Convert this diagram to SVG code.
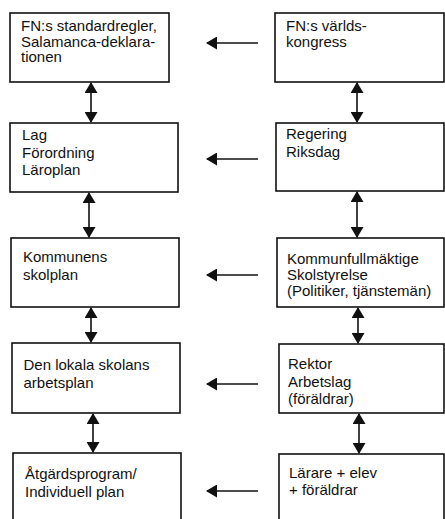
<svg xmlns="http://www.w3.org/2000/svg" width="445" height="519" viewBox="0 0 445 519">
  <style>
    .box { fill: #ffffff; stroke: #111111; stroke-width: 1.6; }
    .t { font-family: "Liberation Sans", Arial, sans-serif; font-size: 15px; fill: #111111; }
    .conn { stroke: #111111; stroke-width: 1.6; fill: none; }
  </style>
  <defs>
    <marker id="ah" viewBox="0 0 11 13" refX="10" refY="6.5" markerWidth="11" markerHeight="13" markerUnits="userSpaceOnUse" orient="auto-start-reverse">
      <path d="M0,0 L11,6.5 L0,13 Z" fill="#111111"/>
    </marker>
  </defs>
  <rect width="445" height="519" fill="#ffffff"/>

  <g id="n-fn-standard">
    <rect class="box" x="10" y="13" width="159" height="69"/>
    <text class="t" x="21" y="31">FN:s standardregler,</text>
    <text class="t" x="21" y="46.5">Salamanca-deklara-</text>
    <text class="t" x="21" y="62">tionen</text>
  </g>
  <g id="n-fn-varlds">
    <rect class="box" x="275" y="13" width="169" height="69"/>
    <text class="t" x="286" y="31">FN:s världs-</text>
    <text class="t" x="286" y="47">kongress</text>
  </g>
  <g id="n-lag">
    <rect class="box" x="10" y="123" width="168" height="69"/>
    <text class="t" x="22" y="139.5">Lag</text>
    <text class="t" x="22" y="157.5">Förordning</text>
    <text class="t" x="22" y="174.5">Läroplan</text>
  </g>
  <g id="n-regering">
    <rect class="box" x="276" y="123" width="168" height="68"/>
    <text class="t" x="286" y="139">Regering</text>
    <text class="t" x="286" y="157">Riksdag</text>
  </g>
  <g id="n-kommunens">
    <rect class="box" x="11" y="238" width="168" height="69"/>
    <text class="t" x="23" y="262">Kommunens</text>
    <text class="t" x="23" y="280">skolplan</text>
  </g>
  <g id="n-kommunfull">
    <rect class="box" x="277" y="238" width="167" height="69"/>
    <text class="t" x="287" y="264">Kommunfullmäktige</text>
    <text class="t" x="287" y="280">Skolstyrelse</text>
    <text class="t" x="287" y="296">(Politiker, tjänstemän)</text>
  </g>
  <g id="n-lokala">
    <rect class="box" x="12" y="343" width="168" height="70"/>
    <text class="t" x="23.5" y="370">Den lokala skolans</text>
    <text class="t" x="23.5" y="387.5">arbetsplan</text>
  </g>
  <g id="n-rektor">
    <rect class="box" x="279" y="344" width="165" height="69"/>
    <text class="t" x="288" y="369">Rektor</text>
    <text class="t" x="288" y="387">Arbetslag</text>
    <text class="t" x="288" y="404">(föräldrar)</text>
  </g>
  <g id="n-atgard">
    <rect class="box" x="13" y="453" width="168" height="80"/>
    <text class="t" x="25" y="479">Åtgärdsprogram/</text>
    <text class="t" x="25" y="497">Individuell plan</text>
  </g>
  <g id="n-larare">
    <rect class="box" x="279" y="454" width="165" height="80"/>
    <text class="t" x="289" y="477.5">Lärare + elev</text>
    <text class="t" x="289" y="495">+ föräldrar</text>
  </g>

  <g id="connectors">
    <line class="conn" x1="91" y1="83" x2="91" y2="122" marker-start="url(#ah)" marker-end="url(#ah)"/>
    <line class="conn" x1="89" y1="193" x2="89" y2="237" marker-start="url(#ah)" marker-end="url(#ah)"/>
    <line class="conn" x1="91" y1="308" x2="91" y2="342" marker-start="url(#ah)" marker-end="url(#ah)"/>
    <line class="conn" x1="93" y1="414" x2="93" y2="452" marker-start="url(#ah)" marker-end="url(#ah)"/>

    <line class="conn" x1="357" y1="83" x2="357" y2="122" marker-start="url(#ah)" marker-end="url(#ah)"/>
    <line class="conn" x1="357" y1="192" x2="357" y2="237" marker-start="url(#ah)" marker-end="url(#ah)"/>
    <line class="conn" x1="358" y1="308" x2="358" y2="343" marker-start="url(#ah)" marker-end="url(#ah)"/>
    <line class="conn" x1="359" y1="414" x2="359" y2="453" marker-start="url(#ah)" marker-end="url(#ah)"/>

    <line class="conn" x1="258" y1="43" x2="207" y2="43" marker-end="url(#ah)"/>
    <line class="conn" x1="258" y1="159" x2="207" y2="159" marker-end="url(#ah)"/>
    <line class="conn" x1="258" y1="275" x2="207" y2="275" marker-end="url(#ah)"/>
    <line class="conn" x1="258" y1="384" x2="207" y2="384" marker-end="url(#ah)"/>
    <line class="conn" x1="258" y1="491" x2="207" y2="491" marker-end="url(#ah)"/>
  </g>
</svg>
